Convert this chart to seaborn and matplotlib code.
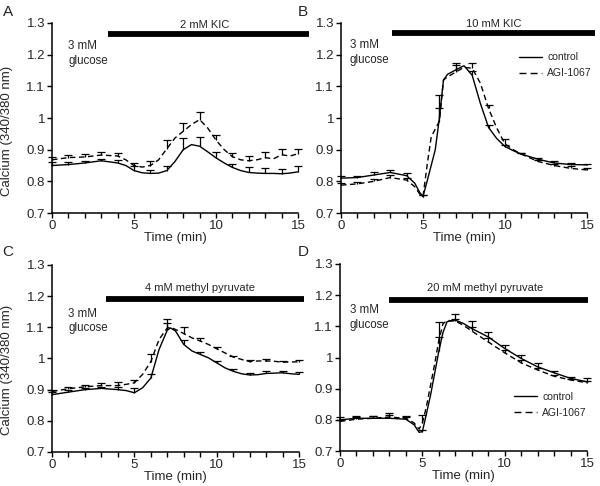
import numpy as np
import pandas as pd
import matplotlib
matplotlib.use("Agg")
import matplotlib.pyplot as plt
from matplotlib.lines import Line2D
from matplotlib.ticker import FuncFormatter, MultipleLocator
import seaborn as sns

# error bars sit on every whole minute
MINUTES = list(range(16))

# --- A: 2 mM KIC ---
TIME_A = [0, 1, 2, 3, 4, 4.5, 5, 5.5, 6, 6.5, 7, 7.5, 8, 8.5, 9, 9.5, 10,
          10.5, 11, 11.5, 12, 12.5, 13, 13.5, 14, 14.5, 15]
CONTROL_A = [0.850, 0.853, 0.858, 0.865, 0.858, 0.850, 0.834, 0.827, 0.825,
             0.826, 0.834, 0.863, 0.900, 0.916, 0.911, 0.893, 0.874, 0.858,
             0.844, 0.834, 0.828, 0.826, 0.825, 0.825, 0.824, 0.826, 0.830]
AGI_A = [0.868, 0.875, 0.877, 0.883, 0.880, 0.868, 0.850, 0.845, 0.850,
         0.868, 0.903, 0.937, 0.958, 0.979, 0.995, 0.968, 0.930, 0.900,
         0.878, 0.868, 0.865, 0.868, 0.875, 0.871, 0.884, 0.880, 0.887]
ERR_CONTROL_A = [0.012, 0.008, 0.007, 0.007, 0.008, 0.013, 0.012, 0.016,
                 0.037, 0.028, 0.019, 0.012, 0.016, 0.016, 0.016, 0.020]
ERR_AGI_A = [0.010, 0.008, 0.008, 0.009, 0.009, 0.008, 0.013, 0.027,
             0.026, 0.024, 0.015, 0.010, 0.014, 0.018, 0.018, 0.015]

# --- B: 10 mM KIC ---
TIME_B = [0, 1, 2, 3, 4, 4.5, 4.8, 5, 5.25, 5.5, 5.75, 6, 6.25, 6.5, 7, 7.5,
          8, 8.5, 9, 9.5, 10, 10.5, 11, 12, 13, 14, 15]
CONTROL_B = [0.810, 0.812, 0.820, 0.828, 0.818, 0.794, 0.765, 0.752, 0.800,
             0.850, 0.900, 1.000, 1.120, 1.138, 1.152, 1.165, 1.135, 1.046,
             0.970, 0.935, 0.910, 0.897, 0.886, 0.870, 0.858, 0.853, 0.852]
AGI_B = [0.788, 0.792, 0.800, 0.812, 0.804, 0.783, 0.760, 0.752, 0.850,
         0.940, 0.965, 0.990, 1.120, 1.130, 1.145, 1.160, 1.157, 1.110,
         1.030, 0.968, 0.918, 0.900, 0.886, 0.863, 0.850, 0.841, 0.836]
ERR_CONTROL_B = [0.006, 0.006, 0.008, 0.008, 0.007, 0.004, 0.073, 0.023,
                 0.012, 0.008, 0.005, 0.004, 0.004, 0.005, 0.004, 0.003]
ERR_AGI_B = [0.008, 0.007, 0.008, 0.008, 0.008, 0.004, 0.040, 0.023,
             0.018, 0.011, 0.015, 0.003, 0.005, 0.006, 0.008, 0.006]

# --- C: 4 mM methyl pyruvate ---
TIME_C = [0, 1, 2, 3, 4, 4.5, 5, 5.5, 6, 6.5, 7, 7.2, 7.5, 8, 8.5, 9, 9.5,
          10, 10.5, 11, 11.5, 12, 12.5, 13, 13.5, 14, 14.5, 15]
CONTROL_C = [0.884, 0.892, 0.900, 0.904, 0.900, 0.897, 0.890, 0.906, 0.937,
             1.029, 1.091, 1.098, 1.088, 1.045, 1.024, 1.013, 1.002, 0.986,
             0.970, 0.959, 0.951, 0.947, 0.948, 0.952, 0.953, 0.954, 0.951,
             0.949]
AGI_C = [0.894, 0.903, 0.909, 0.913, 0.913, 0.917, 0.922, 0.949, 0.990,
         1.061, 1.098, 1.100, 1.093, 1.080, 1.066, 1.056, 1.045, 1.031,
         1.018, 1.005, 0.997, 0.990, 0.992, 0.992, 0.991, 0.988, 0.989,
         0.989]
ERR_CONTROL_C = [0.008, 0.006, 0.006, 0.006, 0.008, 0.016, 0.012, 0.022,
                 0.015, 0.008, 0.005, 0.006, 0.006, 0.008, 0.007, 0.008]
ERR_AGI_C = [0.005, 0.006, 0.005, 0.008, 0.010, 0.008, 0.025, 0.029,
             0.020, 0.010, 0.006, 0.004, 0.006, 0.006, 0.005, 0.005]

# --- D: 20 mM methyl pyruvate ---
TIME_D = [0, 1, 2, 3, 4, 4.5, 4.8, 5, 5.25, 5.5, 5.75, 6, 6.25, 6.5, 7, 7.5,
          8, 9, 10, 11, 12, 13, 14, 15]
CONTROL_D = [0.800, 0.805, 0.805, 0.805, 0.802, 0.784, 0.760, 0.762, 0.820,
             0.880, 0.950, 1.020, 1.080, 1.115, 1.120, 1.109, 1.093, 1.066,
             1.029, 0.997, 0.970, 0.951, 0.933, 0.922]
AGI_D = [0.795, 0.802, 0.805, 0.809, 0.805, 0.790, 0.770, 0.790, 0.843,
         0.912, 0.980, 1.055, 1.108, 1.119, 1.117, 1.103, 1.085, 1.050,
         1.015, 0.983, 0.960, 0.940, 0.928, 0.919]
ERR_CONTROL_D = [0.009, 0.008, 0.006, 0.018, 0.011, 0.005, 0.045, 0.018,
                 0.023, 0.016, 0.012, 0.010, 0.013, 0.006, 0.005, 0.011]
ERR_AGI_D = [0.005, 0.006, 0.006, 0.006, 0.005, 0.025, 0.058, 0.007,
             0.013, 0.011, 0.008, 0.008, 0.005, 0.004, 0.004, 0.005]

STIMULI = ["2 mM KIC", "10 mM KIC", "4 mM methyl pyruvate",
           "20 mM methyl pyruvate"]
LETTERS = ["A", "B", "C", "D"]


def draw_errors(ax, time, vals, err):
    """Upward-only error bars at each whole minute."""
    lookup = dict(zip(time, vals))
    base = [lookup[m] for m in MINUTES]
    _, caps, _ = ax.errorbar(MINUTES, base, yerr=[np.zeros(len(err)), err],
                             fmt="none", ecolor="black", elinewidth=0.9,
                             capsize=2.6, capthick=0.9, clip_on=False)
    caps[0].set_visible(False)  # drop the lower cap


sns.set_style("ticks")
plt.rcParams["font.family"] = ["Liberation Sans", "DejaVu Sans"]

fig = plt.figure(figsize=(6.0, 4.86), dpi=100)
boxes = [
    [0.0867, 0.5617, 0.4100, 0.3910],
    [0.5683, 0.5617, 0.4100, 0.3910],
    [0.0867, 0.0700, 0.4117, 0.3848],
    [0.5667, 0.0720, 0.4117, 0.3848],
]
panels = [
    (TIME_A, CONTROL_A, AGI_A, ERR_CONTROL_A, ERR_AGI_A),
    (TIME_B, CONTROL_B, AGI_B, ERR_CONTROL_B, ERR_AGI_B),
    (TIME_C, CONTROL_C, AGI_C, ERR_CONTROL_C, ERR_AGI_C),
    (TIME_D, CONTROL_D, AGI_D, ERR_CONTROL_D, ERR_AGI_D),
]
# stimulus bar (x0, x1, y), bar label (x, y), glucose note (x, y)
layout = [
    ((3.4, 15.7, 1.265), (9.3, 1.294), (1.0, 1.245)),
    ((3.1, 15.5, 1.267), (9.3, 1.298), (0.55, 1.250)),
    ((3.3, 15.3, 1.192), (9.0, 1.226), (1.0, 1.163)),
    ((3.0, 15.06, 1.185), (8.8, 1.223), (0.6, 1.172)),
]
legend_pos = {1: (0.725, 0.845), 3: (0.705, 0.315)}
ylabel_y = {0: 0.43, 2: 0.44}

for i, (box, (t, ctrl, agi, e_ctrl, e_agi)) in enumerate(zip(boxes, panels)):
    ax = fig.add_axes(box)
    df = pd.DataFrame({
        "time": t + t,
        "ratio": ctrl + agi,
        "group": ["control"] * len(t) + ["AGI-1067"] * len(t),
    })
    sns.lineplot(data=df, x="time", y="ratio", style="group",
                 dashes={"control": "", "AGI-1067": (4, 2.5)},
                 color="black", lw=1.0, estimator=None, legend=False, ax=ax)
    for line in ax.get_lines():
        line.set_clip_on(False)
    draw_errors(ax, t, ctrl, e_ctrl)
    draw_errors(ax, t, agi, e_agi)

    (bx0, bx1, by), (lx, ly), (gx, gy) = layout[i]
    ax.plot([bx0, bx1], [by, by], color="black", lw=4.2,
            solid_capstyle="butt", clip_on=False)
    ax.text(lx, ly, STIMULI[i], ha="center", va="center", fontsize=8)
    ax.text(gx, gy, "3 mM\nglucose", ha="left", va="top", fontsize=8.3,
            linespacing=1.3)

    ax.set_xlim(0, 15)
    ax.set_ylim(0.7, 1.3)
    ax.xaxis.set_major_locator(MultipleLocator(5))
    ax.xaxis.set_minor_locator(MultipleLocator(1))
    ax.yaxis.set_major_locator(MultipleLocator(0.1))
    ax.yaxis.set_major_formatter(FuncFormatter(lambda v, _: f"{v:g}"))
    ax.tick_params(which="both", direction="out", length=3.5, width=1.0,
                   labelsize=9.5, pad=1.5, color="black")
    ax.set_xlabel("Time (min)", fontsize=9.5, labelpad=0)
    if i in ylabel_y:
        ax.set_ylabel("Calcium (340/380 nm)", fontsize=9.5)
        ax.yaxis.set_label_coords(-0.158, ylabel_y[i])
    else:
        ax.set_ylabel("")
    sns.despine(ax=ax)
    for side in ("left", "bottom"):
        ax.spines[side].set_linewidth(1.1)
        ax.spines[side].set_color("black")

    if i in legend_pos:
        handles = [Line2D([], [], color="black", lw=1.0),
                   Line2D([], [], color="black", lw=1.0, dashes=(5, 3))]
        ax.legend(handles, ["control", "AGI-1067"], loc="upper left",
                  bbox_to_anchor=legend_pos[i], frameon=False, fontsize=7.5,
                  handlelength=2.2, handletextpad=0.5, labelspacing=0.55,
                  borderpad=0, borderaxespad=0)

letter_xy = [(0.013, 0.975), (0.505, 0.975), (0.013, 0.481), (0.505, 0.481)]
for (x, y), letter in zip(letter_xy, LETTERS):
    fig.text(x, y, letter, ha="center", va="center", fontsize=11)

fig.savefig("out.png", dpi=100)
